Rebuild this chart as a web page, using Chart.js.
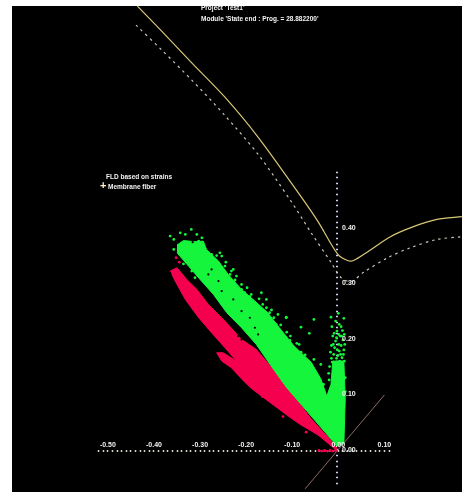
<!DOCTYPE html>
<html>
<head>
<meta charset="utf-8">
<style>
  html, body { margin: 0; padding: 0; background: #fff; }
  #frame { position: absolute; left: 12px; top: 6px; width: 450px; height: 486px; overflow: hidden; background: #000; }
  /* chart.js keeps a small inset for the tick labels, the canvas is pushed out to lose it */
  #fld { position: absolute; left: -1px; top: -7px; filter: blur(0.5px); }
</style>
<script src="https://cdn.jsdelivr.net/npm/chart.js"></script>
</head>
<body>
<div id="frame"><canvas id="fld" width="455" height="499"></canvas></div>
<script>
// tick labels
const xTicks = [-0.5, -0.4, -0.3, -0.2, -0.1, 0, 0.1];
const yTicks = [0, 0.1, 0.2, 0.3, 0.4];

// forming limit curves
const fldCurve = [[-0.436,0.799],[-0.389,0.759],[-0.318,0.697],[-0.247,0.636],[-0.173,0.562],[-0.081,0.456],[-0.044,0.411],[-0.001,0.352],[0.020,0.341],[0.033,0.341],[0.064,0.357],[0.113,0.384],[0.163,0.402],[0.214,0.415],[0.268,0.420]];
const safetyCurve = [[-0.439,0.765],[-0.383,0.720],[-0.318,0.666],[-0.247,0.603],[-0.173,0.531],[-0.102,0.447],[-0.059,0.391],[-0.016,0.338],[0.005,0.311],[0.027,0.303],[0.055,0.320],[0.107,0.346],[0.156,0.364],[0.214,0.379],[0.268,0.384]];
const equibiaxial = [[-0.072,-0.070],[0.100,0.099]];

// the dense part of each cloud is an outline, too many points to read one by one
const greenCloud = [[-0.350,0.369],[-0.336,0.377],[-0.311,0.375],[-0.293,0.376],[-0.286,0.361],[-0.260,0.340],[-0.239,0.316],[-0.210,0.289],[-0.181,0.268],[-0.153,0.247],[-0.128,0.220],[-0.096,0.187],[-0.059,0.158],[-0.038,0.128],[-0.025,0.097],[-0.016,0.118],[-0.012,0.160],[0.012,0.160],[0.015,0.092],[0.012,0.011],[-0.003,0.007],[-0.059,0.061],[-0.113,0.113],[-0.138,0.142],[-0.178,0.190],[-0.210,0.220],[-0.242,0.247],[-0.271,0.280],[-0.300,0.307],[-0.325,0.331],[-0.350,0.355]];
const redCloud = [[-0.365,0.322],[-0.350,0.328],[-0.329,0.307],[-0.307,0.289],[-0.282,0.262],[-0.246,0.232],[-0.210,0.199],[-0.178,0.181],[-0.138,0.142],[-0.109,0.111],[-0.059,0.056],[-0.005,0.007],[-0.005,0.000],[-0.044,0.027],[-0.081,0.045],[-0.102,0.057],[-0.141,0.081],[-0.189,0.111],[-0.203,0.122],[-0.232,0.148],[-0.253,0.160],[-0.264,0.175],[-0.250,0.175],[-0.221,0.160],[-0.246,0.184],[-0.275,0.211],[-0.303,0.238],[-0.332,0.271],[-0.354,0.304],[-0.361,0.316]];

// loose points round the clouds
const greenPoints = [[-0.365,0.385],[-0.357,0.379],[-0.343,0.391],[-0.332,0.388],[-0.319,0.397],[-0.307,0.388],[-0.296,0.382],[-0.303,0.376],[-0.357,0.361],[-0.257,0.355],[-0.253,0.349],[-0.275,0.352],[-0.246,0.331],[-0.228,0.325],[-0.221,0.313],[-0.235,0.316],[-0.210,0.298],[-0.203,0.283],[-0.189,0.280],[-0.167,0.283],[-0.156,0.271],[-0.174,0.250],[-0.149,0.247],[-0.131,0.244],[-0.113,0.238],[-0.135,0.226],[-0.120,0.202],[-0.156,0.256],[-0.210,0.289],[-0.181,0.265],[-0.282,0.343],[-0.271,0.334],[-0.253,0.322],[-0.239,0.292],[-0.318,0.322],[-0.311,0.310],[-0.336,0.335],[-0.113,0.239],[-0.105,0.197],[-0.090,0.192],[-0.085,0.190],[-0.081,0.176],[-0.081,0.221],[-0.072,0.171],[-0.063,0.210],[-0.053,0.235],[-0.053,0.163],[-0.038,0.154],[-0.032,0.118],[-0.020,0.126],[-0.016,0.239],[-0.014,0.222],[-0.012,0.205],[-0.015,0.188],[-0.010,0.172],[-0.013,0.158],[-0.006,0.232],[-0.003,0.214],[-0.006,0.196],[-0.002,0.180],[-0.004,0.165],[0.000,0.246],[0.002,0.226],[0.004,0.205],[0.001,0.190],[0.005,0.172],[0.003,0.160],[0.012,0.237],[0.009,0.215],[0.010,0.198],[0.012,0.180],[0.008,0.166],[0.013,0.160],[0.015,0.130],[0.015,0.105],[-0.017,0.176],[-0.011,0.190],[-0.008,0.184],[-0.009,0.210],[-0.004,0.202],[-0.001,0.170],[0.001,0.208],[0.002,0.178],[0.006,0.188],[0.007,0.205],[0.006,0.222],[0.011,0.172],[0.014,0.190],[0.013,0.208],[-0.015,0.165],[-0.019,0.150],[-0.021,0.138],[-0.272,0.345],[-0.264,0.350],[-0.244,0.338],[-0.232,0.322],[-0.224,0.306],[-0.198,0.292],[-0.192,0.276],[-0.172,0.272],[-0.164,0.262],[-0.145,0.252],[-0.140,0.238],[-0.125,0.225],[-0.112,0.212],[-0.104,0.205]];
const redPoints = [[-0.042,-0.001],[-0.036,-0.002],[-0.030,-0.001],[-0.024,-0.002],[-0.018,-0.001],[-0.012,-0.002],[-0.006,-0.001],[-0.345,0.338],[-0.352,0.346],[-0.148,0.090],[-0.165,0.096],[-0.120,0.060],[-0.070,0.032]];

// dark holes and streaks left inside the clouds
const cloudGaps = [[-0.318,0.379],[-0.314,0.382],[-0.322,0.382],[-0.316,0.374],[-0.275,0.325],[-0.282,0.316],[-0.260,0.304],[-0.253,0.286],[-0.228,0.271],[-0.210,0.250],[-0.192,0.238],[-0.181,0.220],[-0.174,0.208],[-0.271,0.262],[-0.239,0.232],[-0.217,0.205],[-0.210,0.199]];

const labelFont = { size: 7, weight: 'bold', family: 'Liberation Sans' };
const hundredths = v => Math.round(v * 100) / 100;
const xy = p => ({ x: p[0], y: p[1] });

// axes are only dots at every 0.01, kept inside these limits
const keepTicks = (lo, hi) => s => {
  s.ticks = s.ticks.filter(t => t.value >= lo && t.value <= hi && Math.abs(t.value - hundredths(t.value)) < 1e-6);
};

// the two free text blocks of the screenshot, in canvas pixels
const freeText = {
  id: 'freeText',
  afterDraw(chart) {
    const c = chart.ctx;
    c.save();
    c.fillStyle = '#f2f2f2';
    c.textBaseline = 'middle';
    c.font = 'bold 6.5px "Liberation Sans"';
    c.fillText("Project 'Test1'", 190, 9);
    c.fillText("Module 'State end : Prog. = 28.882200'", 190, 20);
    c.fillText('FLD based on strains', 95, 178);
    c.fillText('Membrane fiber', 97, 188);
    c.fillStyle = '#fff6c8';
    c.font = 'bold 11px "Liberation Sans"';
    c.fillText('+', 89, 187);
    c.restore();
  }
};

new Chart(document.getElementById('fld').getContext('2d'), {
  type: 'scatter',
  data: {
    datasets: [
      { label: 'gaps', order: 1, data: cloudGaps.map(xy), backgroundColor: '#000', borderWidth: 0, pointRadius: 1.1, clip: false },
      { label: 'green points', order: 2, data: greenPoints.map(xy), backgroundColor: '#14f53c', borderWidth: 0, pointRadius: 1.4, clip: false },
      { label: 'green cloud', order: 3, data: greenCloud.map(xy), showLine: true, fill: 'shape', backgroundColor: '#14f53c', borderColor: '#14f53c', borderWidth: 1, pointRadius: 0, clip: false },
      { label: 'red points', order: 4, data: redPoints.map(xy), backgroundColor: '#f5004f', borderWidth: 0, pointRadius: 1.4, clip: false },
      { label: 'Membrane fiber', order: 5, data: redCloud.map(xy), showLine: true, fill: 'shape', backgroundColor: '#f5004f', borderColor: '#f5004f', borderWidth: 1, pointRadius: 0, clip: false },
      { label: 'FLC', order: 6, data: fldCurve.map(xy), showLine: true, borderColor: '#d8c878', borderWidth: 1.2, tension: 0.3, pointRadius: 0, clip: false },
      { label: 'FLC safety', order: 7, data: safetyCurve.map(xy), showLine: true, borderColor: '#c8c8b8', borderWidth: 1.2, borderDash: [2.5, 4], tension: 0.3, pointRadius: 0, clip: false },
      { label: 'equibiaxial', order: 8, data: equibiaxial.map(xy), showLine: true, borderColor: '#8c6a64', borderWidth: 1, pointRadius: 0, clip: false }
    ]
  },
  options: {
    responsive: false,
    animation: false,
    devicePixelRatio: 1,
    layout: { padding: 0 },
    plugins: { legend: { display: false }, tooltip: { enabled: false }, filler: { drawTime: 'beforeDatasetDraw' } },
    scales: {
      x: {
        type: 'linear', min: -0.7015, max: 0.2683, position: { y: 0 },
        grid: { drawOnChartArea: false, drawTicks: true, tickLength: 2, tickWidth: 1.5, tickColor: '#d8d4c8' },
        border: { display: false },
        afterBuildTicks: keepTicks(-0.52, 0.11),
        ticks: { stepSize: 0.01, autoSkip: false, maxRotation: 0, padding: -11, z: 1, color: '#f2f2f2', font: labelFont,
          callback: v => xTicks.includes(hundredths(v)) ? v.toFixed(2) : '' }
      },
      y: {
        type: 'linear', min: -0.0736, max: 0.799, position: { x: 0 },
        grid: { drawOnChartArea: false, drawTicks: true, tickLength: 2, tickWidth: 1.5, tickColor: '#d0d0f4' },
        border: { display: false },
        afterBuildTicks: keepTicks(-0.08, 0.505),
        ticks: { stepSize: 0.01, autoSkip: false, display: false }
      },
      yLabels: {
        type: 'linear', axis: 'y', min: -0.0736, max: 0.799, position: { x: 0.0377 },
        grid: { display: false },
        border: { display: false },
        afterBuildTicks: s => { s.ticks = yTicks.map(v => ({ value: v })); },
        ticks: { autoSkip: false, z: 1, color: '#f2f2f2', font: labelFont, callback: v => v.toFixed(2) }
      }
    }
  },
  plugins: [freeText]
});
</script>
</body>
</html>
